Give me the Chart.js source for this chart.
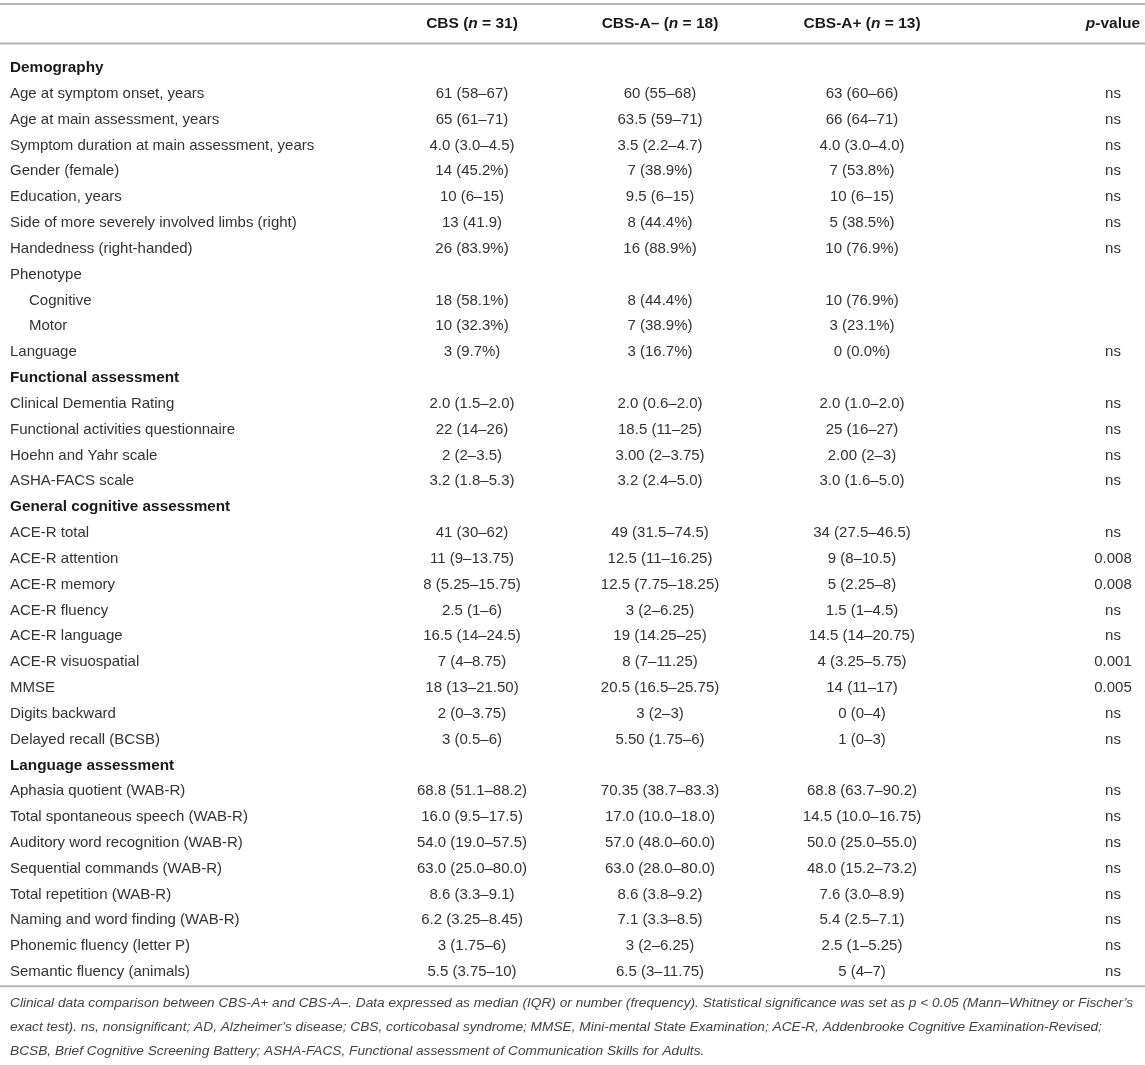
<!DOCTYPE html>
<html>
<head>
<meta charset="utf-8">
<script src="https://cdn.jsdelivr.net/npm/chart.js@4.4.1/dist/chart.umd.min.js"></script>
<style>
  html, body { margin: 0; padding: 0; background: #fff; }
</style>
</head>
<body>
<canvas id="table" width="1145" height="1065"></canvas>
<script>
// rows of the table, top to bottom
const rowLabels = [
  'Demography',
  'Age at symptom onset, years',
  'Age at main assessment, years',
  'Symptom duration at main assessment, years',
  'Gender (female)',
  'Education, years',
  'Side of more severely involved limbs (right)',
  'Handedness (right-handed)',
  'Phenotype',
  'Cognitive',
  'Motor',
  'Language',
  'Functional assessment',
  'Clinical Dementia Rating',
  'Functional activities questionnaire',
  'Hoehn and Yahr scale',
  'ASHA-FACS scale',
  'General cognitive assessment',
  'ACE-R total',
  'ACE-R attention',
  'ACE-R memory',
  'ACE-R fluency',
  'ACE-R language',
  'ACE-R visuospatial',
  'MMSE',
  'Digits backward',
  'Delayed recall (BCSB)',
  'Language assessment',
  'Aphasia quotient (WAB-R)',
  'Total spontaneous speech (WAB-R)',
  'Auditory word recognition (WAB-R)',
  'Sequential commands (WAB-R)',
  'Total repetition (WAB-R)',
  'Naming and word finding (WAB-R)',
  'Phonemic fluency (letter P)',
  'Semantic fluency (animals)'
]

const sectionRows = ['Demography', 'Functional assessment', 'General cognitive assessment', 'Language assessment']
const indentRows = ['Cognitive', 'Motor']

const cbsAll = [
  '', '61 (58–67)', '65 (61–71)', '4.0 (3.0–4.5)', '14 (45.2%)', '10 (6–15)', '13 (41.9)', '26 (83.9%)',
  '', '18 (58.1%)', '10 (32.3%)', '3 (9.7%)',
  '', '2.0 (1.5–2.0)', '22 (14–26)', '2 (2–3.5)', '3.2 (1.8–5.3)',
  '', '41 (30–62)', '11 (9–13.75)', '8 (5.25–15.75)', '2.5 (1–6)', '16.5 (14–24.5)', '7 (4–8.75)', '18 (13–21.50)', '2 (0–3.75)', '3 (0.5–6)',
  '', '68.8 (51.1–88.2)', '16.0 (9.5–17.5)', '54.0 (19.0–57.5)', '63.0 (25.0–80.0)', '8.6 (3.3–9.1)', '6.2 (3.25–8.45)', '3 (1.75–6)', '5.5 (3.75–10)'
]

const cbsNeg = [
  '', '60 (55–68)', '63.5 (59–71)', '3.5 (2.2–4.7)', '7 (38.9%)', '9.5 (6–15)', '8 (44.4%)', '16 (88.9%)',
  '', '8 (44.4%)', '7 (38.9%)', '3 (16.7%)',
  '', '2.0 (0.6–2.0)', '18.5 (11–25)', '3.00 (2–3.75)', '3.2 (2.4–5.0)',
  '', '49 (31.5–74.5)', '12.5 (11–16.25)', '12.5 (7.75–18.25)', '3 (2–6.25)', '19 (14.25–25)', '8 (7–11.25)', '20.5 (16.5–25.75)', '3 (2–3)', '5.50 (1.75–6)',
  '', '70.35 (38.7–83.3)', '17.0 (10.0–18.0)', '57.0 (48.0–60.0)', '63.0 (28.0–80.0)', '8.6 (3.8–9.2)', '7.1 (3.3–8.5)', '3 (2–6.25)', '6.5 (3–11.75)'
]

const cbsPos = [
  '', '63 (60–66)', '66 (64–71)', '4.0 (3.0–4.0)', '7 (53.8%)', '10 (6–15)', '5 (38.5%)', '10 (76.9%)',
  '', '10 (76.9%)', '3 (23.1%)', '0 (0.0%)',
  '', '2.0 (1.0–2.0)', '25 (16–27)', '2.00 (2–3)', '3.0 (1.6–5.0)',
  '', '34 (27.5–46.5)', '9 (8–10.5)', '5 (2.25–8)', '1.5 (1–4.5)', '14.5 (14–20.75)', '4 (3.25–5.75)', '14 (11–17)', '0 (0–4)', '1 (0–3)',
  '', '68.8 (63.7–90.2)', '14.5 (10.0–16.75)', '50.0 (25.0–55.0)', '48.0 (15.2–73.2)', '7.6 (3.0–8.9)', '5.4 (2.5–7.1)', '2.5 (1–5.25)', '5 (4–7)'
]

const pValues = [
  '', 'ns', 'ns', 'ns', 'ns', 'ns', 'ns', 'ns',
  '', '', '', 'ns',
  '', 'ns', 'ns', 'ns', 'ns',
  '', 'ns', '0.008', '0.008', 'ns', 'ns', '0.001', '0.005', 'ns', 'ns',
  '', 'ns', 'ns', 'ns', 'ns', 'ns', 'ns', 'ns', 'ns'
]

// column headers, split in pieces so the n and p can be italic
const headers = [
  [],
  [['CBS (', false], ['n', true], [' = 31)', false]],
  [['CBS-A– (', false], ['n', true], [' = 18)', false]],
  [['CBS-A+ (', false], ['n', true], [' = 13)', false]],
  [['p', true], ['-value', false]]
]

const captionLines = [
  'Clinical data comparison between CBS-A+ and CBS-A–. Data expressed as median (IQR) or number (frequency). Statistical significance was set as p < 0.05 (Mann–Whitney or Fischer’s',
  'exact test). ns, nonsignificant; AD, Alzheimer’s disease; CBS, corticobasal syndrome; MMSE, Mini-mental State Examination; ACE-R, Addenbrooke Cognitive Examination-Revised;',
  'BCSB, Brief Cognitive Screening Battery; ASHA-FACS, Functional assessment of Communication Skills for Adults.'
]

// layout: where each column sits across the page
const colAnchor = [10, 472, 660, 862, 1113]
const colAlign = ['left', 'center', 'center', 'center', 'center']
const FONT = '"Liberation Sans", Arial, Helvetica, sans-serif'

function cellData(col, values) {
  return values.map((v, i) => ({ x: colAnchor[col], y: i, text: v }))
}

const columns = [rowLabels, cbsAll, cbsNeg, cbsPos, pValues]

const tablePlugin = {
  id: 'tableText',
  afterDatasetsDraw(chart) {
    const ctx = chart.ctx
    const yScale = chart.scales.y
    const step = yScale.getPixelForValue(1) - yScale.getPixelForValue(0)
    const y0 = yScale.getPixelForValue(0)
    const yLast = yScale.getPixelForValue(rowLabels.length - 1)
    ctx.save()

    // horizontal rules
    ctx.strokeStyle = '#b4b4b4'
    ctx.lineWidth = 2
    const rules = [y0 - 2.48 * step, y0 - 0.95 * step, yLast + 0.55 * step]
    rules.forEach(ry => {
      ctx.beginPath()
      ctx.moveTo(0, ry)
      ctx.lineTo(chart.width, ry)
      ctx.stroke()
    })

    // header row
    ctx.textBaseline = 'middle'
    ctx.fillStyle = '#1a1a1a'
    const hy = y0 - 1.73 * step
    headers.forEach((parts, c) => {
      if (!parts.length) return
      const widths = parts.map(p => {
        ctx.font = (p[1] ? 'italic ' : '') + 'bold 15.5px ' + FONT
        return ctx.measureText(p[0]).width
      })
      const total = widths.reduce((a, b) => a + b, 0)
      let x = colAnchor[c] - total / 2
      ctx.textAlign = 'left'
      parts.forEach((p, k) => {
        ctx.font = (p[1] ? 'italic ' : '') + 'bold 15.5px ' + FONT
        ctx.fillText(p[0], x, hy)
        x += widths[k]
      })
    })

    // cells, placed on the points the scales computed
    chart.data.datasets.forEach((ds, di) => {
      const meta = chart.getDatasetMeta(di)
      meta.data.forEach((pt, i) => {
        const cell = ds.data[i]
        if (!cell.text) return
        const isSection = di === 0 && sectionRows.includes(cell.text)
        const indent = di === 0 && indentRows.includes(cell.text) ? 19 : 0
        ctx.font = (isSection ? 'bold 15.3px ' : '15px ') + FONT
        ctx.fillStyle = isSection ? '#1a1a1a' : '#333'
        ctx.textAlign = colAlign[di]
        ctx.fillText(cell.text, pt.x + indent, pt.y)
      })
    })

    // caption under the table
    ctx.font = 'italic 13.7px ' + FONT
    ctx.fillStyle = '#444'
    ctx.textAlign = 'left'
    captionLines.forEach((line, k) => {
      ctx.fillText(line, 10, yLast + (1.22 + k * 0.93) * step)
    })
    ctx.restore()
  }
}

new Chart(document.getElementById('table'), {
  type: 'scatter',
  data: {
    labels: rowLabels,
    datasets: columns.map((vals, c) => ({
      label: 'col' + c,
      data: cellData(c, vals),
      pointRadius: 0,
      pointHoverRadius: 0
    }))
  },
  options: {
    responsive: false,
    animation: false,
    events: [],
    layout: { padding: { top: 68, bottom: 93, left: 0, right: 0 } },
    plugins: { legend: { display: false }, tooltip: { enabled: false } },
    scales: {
      x: { type: 'linear', min: 0, max: 1145, display: false },
      y: { type: 'category', labels: rowLabels, offset: false, display: false }
    }
  },
  plugins: [tablePlugin]
})
</script>
</body>
</html>
